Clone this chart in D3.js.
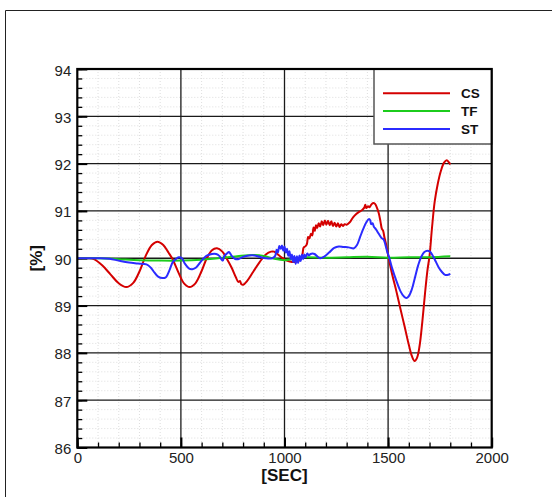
<!DOCTYPE html>
<html>
<head>
<meta charset="utf-8">
<script src="https://cdn.jsdelivr.net/npm/d3@7"></script>
<style>
  html, body { margin: 0; padding: 0; background: #fff; }
  svg { display: block; }
</style>
</head>
<body>
<svg id="chart" width="552" height="497"></svg>
<script>
// Time axis (seconds) and value axis (%) ticks
const xMajorTicks = [0, 500, 1000, 1500, 2000];
const yMajorTicks = [86, 87, 88, 89, 90, 91, 92, 93, 94];

// Series names in legend order
const seriesNames = ["CS", "TF", "ST"];
const seriesColors = ["#d40000", "#1ccc1c", "#2b2bff"];

// CS: [time, percent]
const csData = [
  [0, 90.00], [50, 90.00], [80, 89.98], [120, 89.85], [160, 89.66], [200, 89.47],
  [236, 89.39], [270, 89.48], [300, 89.72], [330, 90.05], [360, 90.28], [387, 90.35],
  [415, 90.28], [440, 90.12], [460, 89.98], [490, 89.68], [515, 89.47], [542, 89.39],
  [570, 89.47], [600, 89.73], [625, 90.00], [650, 90.17], [674, 90.21], [700, 90.14],
  [720, 90.00], [745, 89.80], [765, 89.60], [777, 89.50], [785, 89.52], [792, 89.45],
  [801, 89.44], [820, 89.52], [850, 89.72], [880, 89.92], [910, 90.08], [935, 90.14],
  [950, 90.14], [965, 90.09], [985, 90.02], [1005, 89.96], [1025, 89.93], [1048, 89.92],
  [1070, 89.95], [1085, 90.05], [1092, 90.22], [1100, 90.25], [1108, 90.30], [1114, 90.45],
  [1120, 90.42], [1128, 90.52], [1134, 90.48], [1140, 90.65], [1146, 90.58], [1152, 90.70],
  [1158, 90.64], [1165, 90.74], [1172, 90.67], [1180, 90.78], [1187, 90.70], [1195, 90.80],
  [1202, 90.71], [1210, 90.79], [1218, 90.70], [1226, 90.78], [1234, 90.68], [1242, 90.75],
  [1250, 90.67], [1258, 90.74], [1266, 90.66], [1274, 90.72], [1282, 90.68], [1290, 90.72],
  [1300, 90.71], [1315, 90.76], [1330, 90.86], [1345, 90.93], [1360, 90.98], [1375, 91.02],
  [1385, 91.07], [1390, 91.13], [1395, 91.06], [1403, 91.10], [1410, 91.08], [1418, 91.13],
  [1428, 91.17], [1437, 91.15], [1445, 91.08], [1455, 90.95], [1463, 90.78], [1470, 90.62],
  [1476, 90.58], [1482, 90.45], [1490, 90.30], [1503, 90.00], [1520, 89.65], [1540, 89.30],
  [1560, 88.92], [1580, 88.55], [1600, 88.17], [1615, 87.93], [1628, 87.83], [1640, 87.90],
  [1652, 88.15], [1665, 88.65], [1678, 89.25], [1690, 89.75], [1700, 90.05], [1712, 90.65],
  [1725, 91.20], [1740, 91.58], [1755, 91.85], [1770, 92.02], [1783, 92.07], [1793, 92.03],
  [1800, 91.98]
];

// TF: [time, percent]
const tfData = [
  [0, 90.00], [100, 90.00], [200, 89.98], [300, 89.96], [400, 89.95], [500, 89.95],
  [600, 89.97], [700, 90.01], [780, 90.05], [850, 90.07], [900, 90.05], [950, 89.99],
  [1000, 89.96], [1050, 89.99], [1100, 90.02], [1200, 90.01], [1300, 90.02], [1400, 90.03],
  [1500, 90.01], [1600, 90.02], [1700, 90.02], [1800, 90.04]
];

// ST: [time, percent]
const stData = [
  [0, 90.00], [100, 90.00], [156, 89.99], [200, 89.95], [250, 89.91], [292, 89.89],
  [334, 89.87], [355, 89.80], [372, 89.70], [390, 89.61], [411, 89.58], [428, 89.60],
  [445, 89.75], [462, 89.93], [478, 89.99], [490, 90.02], [505, 90.00], [520, 89.88],
  [540, 89.78], [555, 89.77], [572, 89.80], [600, 89.95], [623, 90.05], [650, 90.09],
  [670, 90.09], [685, 90.05], [695, 89.98], [702, 89.95], [710, 90.05], [722, 90.10],
  [732, 90.13], [745, 90.05], [760, 89.99], [776, 89.98], [800, 90.03], [830, 90.06],
  [855, 90.06], [880, 90.03], [910, 90.00], [940, 90.00], [955, 90.05], [962, 90.18],
  [968, 90.12], [975, 90.26], [982, 90.20], [988, 90.27], [994, 90.16], [1000, 90.25],
  [1006, 90.12], [1012, 90.20], [1018, 90.05], [1024, 90.15], [1030, 89.98], [1036, 90.08],
  [1042, 89.92], [1048, 90.05], [1054, 89.88], [1060, 90.04], [1066, 89.90], [1072, 90.06],
  [1078, 89.94], [1084, 90.08], [1090, 89.98], [1096, 90.08], [1102, 90.02], [1110, 90.10],
  [1118, 90.06], [1126, 90.09], [1135, 90.10], [1145, 90.09], [1158, 90.04], [1172, 90.00],
  [1190, 90.03], [1215, 90.12], [1240, 90.22], [1262, 90.25], [1285, 90.24], [1310, 90.23],
  [1335, 90.21], [1350, 90.28], [1365, 90.45], [1380, 90.62], [1395, 90.76], [1408, 90.83],
  [1414, 90.80], [1418, 90.72], [1425, 90.74], [1432, 90.66], [1440, 90.62], [1450, 90.55],
  [1460, 90.48], [1470, 90.42], [1478, 90.40], [1486, 90.30], [1495, 90.15], [1505, 90.02],
  [1520, 89.78], [1540, 89.52], [1560, 89.30], [1575, 89.20], [1588, 89.16], [1600, 89.20],
  [1615, 89.35], [1630, 89.60], [1645, 89.85], [1660, 90.03], [1675, 90.13], [1690, 90.16],
  [1702, 90.14], [1715, 90.06], [1730, 89.93], [1745, 89.80], [1760, 89.71], [1775, 89.65],
  [1790, 89.65], [1800, 89.67]
];

const seriesData = [csData, tfData, stData];

const svg = d3.select("#chart");
const font = "'Liberation Sans', Arial, Helvetica, sans-serif";

// Plot frame
const plotLeft = 77.3, plotRight = 491.7, plotTop = 69, plotBottom = 447.5;
const x = d3.scaleLinear().domain([0, 2000]).range([plotLeft, plotRight]);
const y = d3.scaleLinear().domain([86, 94]).range([plotBottom, plotTop]);

// Outer page frame
svg.append("path")
  .attr("d", "M5.5,497 V10.5 H552")
  .attr("fill", "none")
  .attr("stroke", "#222")
  .attr("stroke-width", 1);

// Minor dotted grid
const xMinor = d3.range(100, 2000, 100).filter(v => v % 500 !== 0);
const yMinor = d3.range(86.2, 94, 0.2).map(v => +v.toFixed(1)).filter(v => Math.abs(v - Math.round(v)) > 0.01);
const minorGrid = svg.append("g")
  .attr("stroke", "#d6d6d6")
  .attr("stroke-width", 0.8)
  .attr("stroke-dasharray", "1,2");
minorGrid.selectAll("line.vx").data(xMinor).join("line")
  .attr("x1", d => x(d)).attr("x2", d => x(d))
  .attr("y1", plotTop).attr("y2", plotBottom);
minorGrid.selectAll("line.hy").data(yMinor).join("line")
  .attr("x1", plotLeft).attr("x2", plotRight)
  .attr("y1", d => y(d)).attr("y2", d => y(d));

// Major grid
const majorGrid = svg.append("g")
  .attr("stroke", "#1a1a1a")
  .attr("stroke-width", 1.3);
majorGrid.selectAll("line.vx").data(xMajorTicks.slice(1, -1)).join("line")
  .attr("x1", d => x(d)).attr("x2", d => x(d))
  .attr("y1", plotTop).attr("y2", plotBottom);
majorGrid.selectAll("line.hy").data(yMajorTicks.slice(1, -1)).join("line")
  .attr("x1", plotLeft).attr("x2", plotRight)
  .attr("y1", d => y(d)).attr("y2", d => y(d));

// Axes: ticks point into the plot
const xAxisMinor = d3.axisBottom(x).tickValues(d3.range(0, 2001, 100)).tickSizeInner(-5).tickSizeOuter(0).tickFormat("");
const xAxisMajor = d3.axisBottom(x).tickValues(xMajorTicks).tickSizeInner(-10).tickSizeOuter(0).tickPadding(5).tickFormat(d3.format("d"));
const yAxisMinor = d3.axisLeft(y).tickValues(d3.range(86, 94.01, 0.2)).tickSizeInner(-5).tickSizeOuter(0).tickFormat("");
const yAxisMajor = d3.axisLeft(y).tickValues(yMajorTicks).tickSizeInner(-10).tickSizeOuter(0).tickPadding(6).tickFormat(d3.format("d"));

function styleAxis(g, w) {
  g.select(".domain").remove();
  g.selectAll(".tick line").attr("stroke", "#000").attr("stroke-width", w);
  g.selectAll(".tick text")
    .attr("fill", "#222")
    .style("font-family", font)
    .style("font-size", "15px");
}

svg.append("g").attr("transform", `translate(0,${plotBottom})`).call(xAxisMinor).call(g => styleAxis(g, 1.3));
svg.append("g").attr("transform", `translate(0,${plotBottom})`).call(xAxisMajor).call(g => styleAxis(g, 2));
svg.append("g").attr("transform", `translate(${plotLeft},0)`).call(yAxisMinor).call(g => styleAxis(g, 1.3));
svg.append("g").attr("transform", `translate(${plotLeft},0)`).call(yAxisMajor).call(g => styleAxis(g, 2))
  .selectAll(".tick text").attr("dy", "0.4em");

// Series lines
const line = d3.line()
  .x(d => x(d[0]))
  .y(d => y(d[1]))
  .curve(d3.curveCatmullRom.alpha(0.5));

seriesData.forEach((data, i) => {
  svg.append("path")
    .datum(data)
    .attr("fill", "none")
    .attr("stroke", seriesColors[i])
    .attr("stroke-width", 2)
    .attr("stroke-linejoin", "round")
    .attr("d", line);
});

// Legend
const legend = svg.append("g");
legend.append("rect")
  .attr("x", 374).attr("y", plotTop)
  .attr("width", plotRight - 374).attr("height", 144 - plotTop)
  .attr("fill", "#fff")
  .attr("stroke", "#555")
  .attr("stroke-width", 1.5);
const legendRowY = [93.3, 111, 129];
seriesNames.forEach((name, i) => {
  legend.append("line")
    .attr("x1", 383).attr("x2", 450)
    .attr("y1", legendRowY[i]).attr("y2", legendRowY[i])
    .attr("stroke", seriesColors[i])
    .attr("stroke-width", 2);
  legend.append("text")
    .attr("x", 461).attr("y", legendRowY[i] + 4.8)
    .attr("fill", "#111")
    .style("font-family", font)
    .style("font-size", "13.5px")
    .style("font-weight", "bold")
    .text(name);
});

// Plot border
svg.append("rect")
  .attr("x", plotLeft).attr("y", plotTop)
  .attr("width", plotRight - plotLeft).attr("height", plotBottom - plotTop)
  .attr("fill", "none")
  .attr("stroke", "#000")
  .attr("stroke-width", 2.2);

// Axis titles
svg.append("text")
  .attr("x", x(1000)).attr("y", 481)
  .attr("text-anchor", "middle")
  .attr("fill", "#111")
  .style("font-family", font)
  .style("font-size", "17px")
  .style("font-weight", "bold")
  .text("[SEC]");

svg.append("text")
  .attr("transform", `translate(42,${y(90)}) rotate(-90)`)
  .attr("text-anchor", "middle")
  .attr("fill", "#111")
  .style("font-family", font)
  .style("font-size", "17px")
  .style("font-weight", "bold")
  .text("[%]");
</script>
</body>
</html>
